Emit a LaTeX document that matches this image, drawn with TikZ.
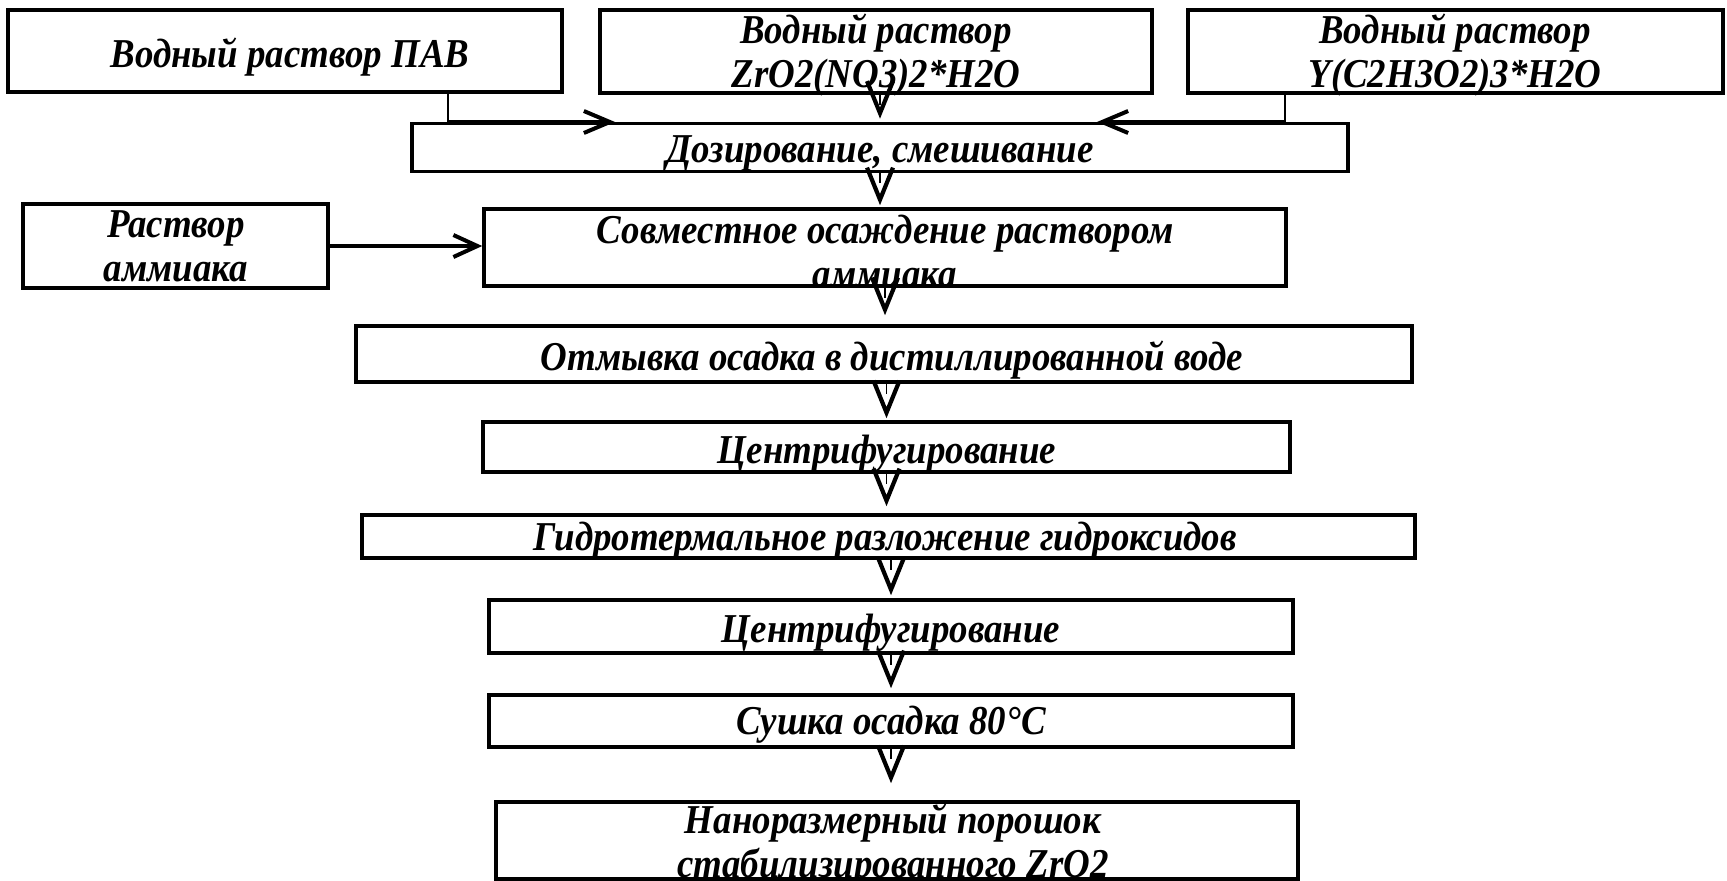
\documentclass[tikz,border=0pt]{standalone}
\usepackage{fontspec}
\setmainfont{Liberation Serif}[FakeStretch=0.9]
\usetikzlibrary{arrows.meta}
\begin{document}
\begin{tikzpicture}[x=0.5pt,y=-0.5pt,
  box/.style={draw, line width=1.8pt, rectangle, inner sep=0pt},
  txt/.style={font=\fontsize{20.5}{22}\selectfont\bfseries\itshape, align=center, inner sep=0pt},
  txtb/.style={txt, anchor=base},
  flow/.style={draw=white, line width=0.9pt,
    -{Straight Barb[color=black, length=16pt, width=13pt, line width=2.1pt]},
    postaction={draw=black, dash pattern=on 5pt off 300pt, -}},
  feedv/.style={line width=0.9pt},
  feedh/.style={line width=2pt, -{Straight Barb[length=13pt,width=11pt,line width=2pt]}}
]
\useasboundingbox (0,0) rectangle (1727,880);
% boxes
\node[box, minimum width=277pt, minimum height=41pt] (A) at (285,51) {};
\node[box, minimum width=276pt, minimum height=41.5pt] (B) at (876,51.5) {};
\node[box, minimum width=267.5pt, minimum height=41.5pt] (C) at (1455.5,51.5) {};
\node[box, minimum width=468pt, minimum height=24pt] (Doz) at (880,147.5) {};
\node[box, minimum width=152.5pt, minimum height=42pt] (R) at (175.5,246) {};
\node[box, minimum width=401pt, minimum height=38.5pt] (Sov) at (885,247.5) {};
\node[box, minimum width=528pt, minimum height=28pt] (Otm) at (884,354) {};
\node[box, minimum width=403.5pt, minimum height=25pt] (Cen1) at (886.5,447) {};
\node[box, minimum width=526.5pt, minimum height=21.5pt] (Gid) at (888.5,536.5) {};
\node[box, minimum width=402pt, minimum height=26.5pt] (Cen2) at (891,626.5) {};
\node[box, minimum width=402pt, minimum height=26pt] (Sus) at (891,721) {};
\node[box, minimum width=401pt, minimum height=38.5pt] (Fin) at (897,840.5) {};
% texts
\node[txtb] (tA) at (290,67) {Водный раствор ПАВ};
\node[txt] (tB) at (876,55) {Водный раствор\\ZrO2(NO3)2*H2O};
\node[txt] (tC) at (1455,55) {Водный раствор\\Y(C2H3O2)3*H2O};
\node[txtb] (tDoz) at (880,162) {Дозирование, смешивание};
\node[txt] (tR) at (176,246) {Раствор\\аммиака};
\node[txt] (tSov) at (885,252) {Совместное осаждение раствором\\аммиака};
\node[txtb] (tOtm) at (892,370) {Отмывка осадка в дистиллированной воде};
\node[txtb] (tCen1) at (887,463) {Центрифугирование};
\node[txtb] (tGid) at (885,550) {Гидротермальное разложение гидроксидов};
\node[txtb] (tCen2) at (891,642) {Центрифугирование};
\node[txtb] (tSus) at (891,734) {Сушка осадка 80°C};
\node[txt] (tFin) at (893,845) {Наноразмерный порошок\\стабилизированного ZrO2};
% feed connectors
\coordinate (jA) at (448,122);
\coordinate (tipA) at (615,122);
\coordinate (jC) at (1285,122);
\coordinate (tipC) at (1097,122);
\draw[feedv] (A.south -| jA) -- (jA);
\draw[feedh] (jA) -- (tipA);
\draw[feedv] (C.south -| jC) -- (jC);
\draw[feedh] (jC) -- (tipC);
\draw[line width=1.6pt, -{Straight Barb[length=12pt,width=11pt,line width=2pt]}] (R.east) -- (R.east -| Sov.west);
% main flow
\draw[flow, shorten >=1.5pt] (Doz.north |- B.south) -- (Doz.north);
\draw[flow, shorten >=1pt] (Doz.south) -- (Doz.south |- Sov.north);
\draw[flow, shorten >=4.5pt] (Sov.south) -- (Sov.south |- Otm.north);
\draw[flow, shorten >=1pt] (Cen1.north |- Otm.south) -- (Cen1.north);
\draw[flow, shorten >=3.5pt] (Cen1.south) -- (Cen1.south |- Gid.north);
\draw[flow, shorten >=1.5pt] (Cen2.north |- Gid.south) -- (Cen2.north);
\draw[flow, shorten >=2.5pt] (Cen2.south) -- (Sus.north);
\draw[flow, shorten >=8.5pt] (Sus.south) -- (Sus.south |- Fin.north);
\end{tikzpicture}
\end{document}
